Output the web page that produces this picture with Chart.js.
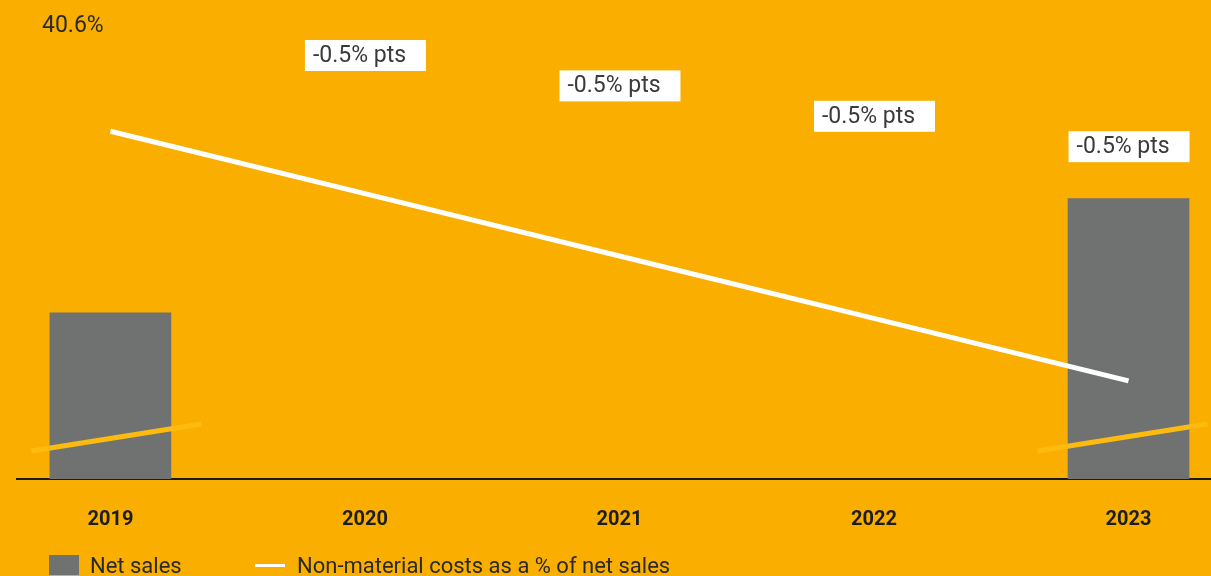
<!DOCTYPE html>
<html>
<head>
<meta charset="utf-8">
<script src="https://cdn.jsdelivr.net/npm/chart.js@4.4.1/dist/chart.umd.min.js"></script>
<style>
  html, body { margin: 0; padding: 0; background: #f9ae00; overflow: hidden; }
  #wrap { position: relative; width: 1211px; height: 576px; }
  #legend { position: absolute; left: 0; top: 553px; height: 24px; width: 1211px;
            font: 22px Roboto, sans-serif; color: #2b2a26; }
  .item { position: absolute; top: 0; display: flex; align-items: center; height: 24px; }
  .box { width: 30px; height: 20px; background: #707271; margin-right: 11px; }
  .ln { width: 30px; height: 3px; background: #fff; margin-right: 12px; }
</style>
</head>
<body>
<div id="wrap">
  <canvas id="chart" width="1211" height="576"></canvas>
  <div id="legend">
    <div class="item" style="left:49px"><div class="box"></div><span>Net sales</span></div>
    <div class="item" style="left:255px"><div class="ln"></div><span>Non-material costs as a % of net sales</span></div>
  </div>
</div>
<script>
// years on the x axis
const years = [2019, 2020, 2021, 2022, 2023];
// net sales (relative index, only first and last year shown)
const netSales = [36.2, null, null, null, 61.1];
// non-material costs as % of net sales
const costShare = [40.6, 40.1, 39.6, 39.1, 38.6];

const barGrey = '#707271';
const breakYellow = '#fdbb10';

// white boxes with the yearly change, the start value and the axis-break strokes
const annotations = {
  id: 'annotations',
  afterDatasetsDraw(chart) {
    const { ctx, scales: { x, ySales } } = chart;
    const base = ySales.getPixelForValue(0);

    // break strokes over the bars
    ctx.save();
    ctx.strokeStyle = breakYellow;
    ctx.lineWidth = 5;
    netSales.forEach((v, i) => {
      if (v == null) return;
      const c = x.getPixelForValue(years[i]);
      const shift = i === 0 ? 6 : -6;
      ctx.beginPath();
      ctx.moveTo(c + shift - 85, base - 28);
      ctx.lineTo(c + shift + 85, base - 55);
      ctx.stroke();
    });
    ctx.restore();

    // start value
    ctx.save();
    ctx.font = '23px Roboto';
    ctx.fillStyle = '#2b2a26';
    ctx.textBaseline = 'middle';
    ctx.fillText(costShare[0].toFixed(1) + '%', 42, 26);

    // change labels
    for (let i = 1; i < years.length; i++) {
      const c = x.getPixelForValue(years[i]);
      const top = 40 + (i - 1) * 30.4;
      ctx.fillStyle = '#fff';
      ctx.fillRect(c - 60, top, 121, 31);
      ctx.fillStyle = '#3a3a3a';
      const diff = (costShare[i] - costShare[i - 1]).toFixed(1);
      ctx.fillText(diff + '% pts', c - 52, top + 16);
    }
    ctx.restore();
  }
};

new Chart(document.getElementById('chart'), {
  data: {
    datasets: [
      {
        type: 'line',
        label: 'Non-material costs as a % of net sales',
        data: years.map((y, i) => ({ x: y, y: costShare[i] })),
        yAxisID: 'yShare',
        borderColor: '#fff',
        borderWidth: 5,
        borderCapStyle: 'butt',
        pointRadius: 0,
        order: 0
      },
      {
        type: 'bar',
        label: 'Net sales',
        data: years.map((y, i) => ({ x: y, y: netSales[i] })),
        yAxisID: 'ySales',
        backgroundColor: barGrey,
        barThickness: 121,
        order: 1
      }
    ]
  },
  options: {
    responsive: false,
    animation: false,
    layout: { padding: { left: 17, right: 0, top: 20, bottom: 23 } },
    plugins: { legend: { display: false }, tooltip: { enabled: false } },
    scales: {
      x: {
        type: 'linear',
        offset: false,
        min: 2018.633,
        max: 2023.324,
        grid: { display: false },
        border: { display: true, color: '#1a1a1a', width: 2 },
        afterBuildTicks: s => { s.ticks = years.map(v => ({ value: v })); },
        ticks: {
          padding: 21,
          color: '#1d1d1b',
          font: { family: 'Roboto', size: 20, weight: 'bold' },
          callback: v => String(v)
        }
      },
      ySales: { display: false, min: 0, max: 100 },
      yShare: { display: false, min: 37.813, max: 41.492 }
    }
  },
  plugins: [annotations]
});
</script>
</body>
</html>
